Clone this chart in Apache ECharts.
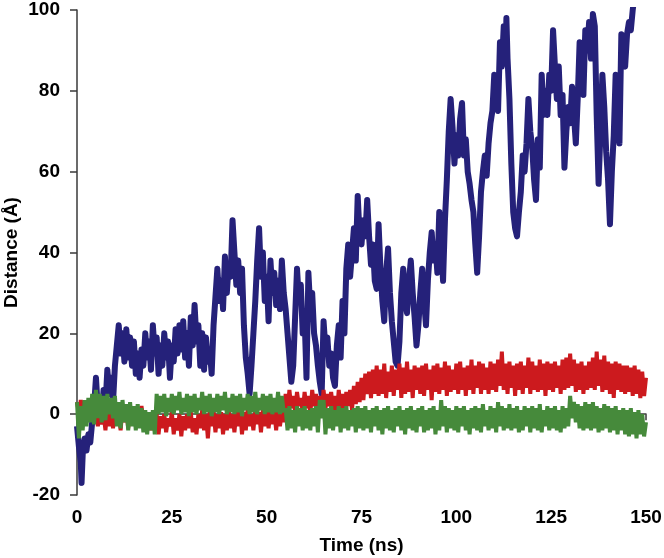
<!DOCTYPE html>
<html><head><meta charset="utf-8">
<script src="https://cdn.jsdelivr.net/npm/echarts@6/dist/echarts.min.js"></script>
<style>html,body{margin:0;padding:0;background:#fff}#c{width:664px;height:558px}</style>
</head><body><div id="c"></div>
<script>
// Time (ns) and distance (Å) for the blue trace
const blueT = [0,0.5,1,1.2,1.5,2,2.5,3,3.5,4,4.5,5,5.5,6,6.5,7,7.5,8,8.5,9,9.5,10,10.5,11,11.5,12,12.5,13,13.5,14,14.5,15,15.5,16,16.5,17,17.5,18,18.5,19,19.5,20,20.5,21,21.5,22,22.5,23,23.5,24,24.5,25,25.5,26,26.5,27,27.5,28,28.5,29,29.5,30,30.5,31,31.5,32,32.5,33,33.5,34,34.5,35,35.5,36,36.5,37,37.5,38,38.5,39,39.5,40,40.5,41,41.5,42,42.5,43,43.5,44,44.5,45,45.5,46,46.5,47,47.5,48,48.5,49,49.5,50,50.5,51,51.5,52,52.5,53,53.5,54,54.5,55,55.5,56,56.5,57,57.5,58,58.5,59,59.5,60,60.5,61,61.5,62,62.5,63,63.5,64,64.5,65,65.5,66,66.5,67,67.5,68,68.5,69,69.5,70,70.5,71,71.5,72,72.5,73,73.5,74,74.5,75,75.5,76,76.5,77,77.5,78,78.5,79,79.5,80,80.5,81,81.5,82,82.5,83,83.5,84,84.5,85,85.5,86,86.5,87,87.5,88,88.5,89,89.5,90,90.5,91,91.5,92,92.5,93,93.5,94,94.5,95,95.5,96,96.5,97,97.5,98,98.5,99,99.5,100,100.5,101,101.5,102,102.5,103,103.5,104,104.5,105,105.5,106,106.5,107,107.5,108,108.5,109,109.5,110,110.5,111,111.5,112,112.5,113,113.2,113.5,114,114.5,115,115.5,116,116.5,117,117.5,118,118.5,119,119.5,120,120.5,121,121.5,122,122.5,123,123.5,124,124.5,125,125.5,126,126.5,127,127.5,128,128.5,129,129.5,130,130.5,131,131.5,132,132.5,133,133.5,134,134.5,135,135.5,136,136.5,137,137.5,138,138.5,139,139.5,140,140.5,141,141.5,142,142.5,143,143.5,144,144.5,145,145.5,146,146.5,147];
const blueV = [-3,-8,-12,-17,-10,-6,-9,-5,-7,-2,2,9,1,3,-1,6,2,11,5,9,3,12,17,22,15,20,13,21,14,19,12,18,10,15,9,16,12,20,14,18,11,22,15,19,10,17,12,20,14,18,9,17,13,21,15,22,16,23,14,20,12,24,17,27,18,22,12,20,11,19,13,16,10,22,29,36,28,33,26,39,30,37,34,48,40,32,38,30,36,22,14,10,5,12,20,28,38,46,34,40,28,34,23,38,30,35,27,33,26,38,30,26,20,14,8,12,24,36,28,32,20,24,9,35,26,30,20,17,12,8,5,23,16,19,12,15,9,7,17,22,14,28,20,36,42,34,40,46,38,54,44,42,48,44,53,44,37,42,33,31,47,36,28,23,35,41,30,23,18,13,12,18,30,36,28,25,33,38,30,24,17,22,30,36,28,22,33,40,45,38,42,35,50,42,33,48,58,70,78,71,62,69,64,73,77,64,68,60,57,53,50,42,35,44,55,60,64,59,67,72,75,84,78,75,92,86,96,90,98,88,78,62,50,46,44,50,55,64,60,67,78,70,66,58,53,68,61,84,74,80,74,84,80,95,86,78,86,74,79,61,70,76,72,81,74,67,78,92,84,79,95,90,97,88,99,96,74,57,70,84,76,65,58,47,60,69,84,78,67,94,88,86,94,97,95,100,104];

// Red and green traces, sampled every 0.5 ns from 0 to 150 ns
const redV = [
3,0.5,3.5,1,2.5,-1,2,0,1,-2,
0.5,-3,1,-2.5,0,-4,1,-3,0.5,-3.5,
1,-2,0,-4,1.5,-2,1,-3.5,2,-1,
1.5,-3,1,-2,2,-1.5,0,-3.5,0.5,-4,
0,-3,0,-5,-0.5,-3.5,0,-4.5,-1,-3,
0.5,-5,-1,-4,0,-5.5,-0.5,-4,0,-3.5,
0.5,-4.5,-1,-5,0,-3.5,1,-4,0,-6,
0.5,-3,1,-4.5,0,-3.5,0.5,-5,0,-4,
1,-3.5,0,-4.5,0.5,-3,1,-5,0.5,-4,
1.5,-3,0,-4,1,-2.5,0.5,-4.5,1,-3,
1.5,-3.5,0.5,-2.5,1,-4,1.5,-3,0.5,-2,
5,1,6,1.5,4.5,0.5,5.5,2,4,0.5,
5.5,1.5,4.5,0,6,2,5,1,4.5,0.5,
6,1.5,5,2,5.5,1,4.5,0,6,1.5,
5,0.5,5.5,2,6,1,7,2.5,8,3,
9,3.5,10,5,10.5,4,11,5,12,4.5,
11,5,12.5,4,10.5,5.5,12,4.5,11,6,
12.5,4,11.5,5,13,5.5,11,4,12,6,
11.5,5,12,4.5,12.5,6,11,3.5,12,5.5,
12.5,5,11.5,6,13,4.5,12,5.5,11,6,
12.5,5,13,6,11.5,4.5,12,6,13.5,5,
12,6.5,13,5,12.5,6,11.5,5,13,6,
12.5,5.5,13.5,7,15.5,6,12.5,5,13,6.5,
12,4.5,12.5,6,13,5,12,6.5,14,5,
13,6,12,5.5,13.5,6,12.5,4.5,13,6,
12.5,5.5,13,6.5,12,5,13.5,6,14,6.5,
15,7,13.5,5.5,12.5,6,13,5,12,6,
13,6.5,14,6,15.5,7,13.5,5.5,14.5,6,
13,5,12.5,4,13,6,12.5,5.5,12,5,
12,5.5,11.5,4.5,12,5,11,4,10.5,4.5,
9];
const greenV = [
3,-6,2,-4,3.5,-3,4,-2,5,-2.5,
6,-1,5,-2,4.5,-1.5,5,0,4,-1,
4.5,-3,3,-3.5,3.5,-2,2.5,-4,3,-3,
2,-4,2.5,-3.5,1.5,-4.5,1,-5,0.5,-4,
1,-5,5,0,4.5,0.5,5,-0.5,4,0.5,
5,0,4.5,1,5.5,0,4,0.5,5,-0.5,
4.5,0.5,5,0,4,1,5.5,0,4.5,0.5,
5,-0.5,4,0.5,5,0,4.5,1,5.5,0,
4,0.5,5,0,4.5,0.5,5,-0.5,4,1,
5,0,4.5,0.5,5.5,0,4,1,5,0,
4.5,0.5,5,0,4,0.5,5.5,0,4.5,0.5,
1.5,-4,2,-3.5,1,-4.5,2,-3,1.5,-4,
2,-3.5,1,-4,1.5,-3,2,-4.5,3.5,-1,
3.5,-5,1.5,-3.5,2,-4,1,-3,2,-4.5,
1.5,-3.5,2,-4,1,-3,1.5,-4.5,2,-3.5,
1.5,-4,2,-3.5,1,-4.5,1.5,-3,2,-4,
1,-5,1.5,-3.5,2,-4,1,-4.5,1.5,-3,
2,-4,1,-5,1.5,-3.5,2,-4,1,-4.5,
1.5,-3,2,-4.5,1,-4,1.5,-3.5,2,-5,
1,-4,3.5,-3,2,-4.5,1.5,-3.5,1,-4,
2,-4.5,1.5,-3,2,-4,1,-5,1.5,-3.5,
2,-4,1.5,-4.5,2.5,-3,1,-4,2,-3.5,
1.5,-4.5,3,-3,2,-4,1.5,-3.5,2.5,-4,
1.5,-3.5,2,-4.5,1,-4,2,-3,1.5,-4.5,
2,-3.5,1.5,-4,2.5,-4.5,1,-3,2,-4,
1.5,-3.5,2,-4,1,-4.5,2,-3.5,1.5,-3,
4.5,-1,3,-2,2.5,-3.5,2,-4,3,-3.5,
2.5,-4,3,-3.5,2,-4.5,1.5,-4,2.5,-3.5,
2,-4.5,1.5,-4,2,-5,1,-4,1.5,-5,
1,-5.5,1.5,-5,0.5,-6,1,-5,0,-5.5,
-2];
const sampleStep = 0.5;
const xTicks = [0,25,50,75,100,125,150];
const yTicks = [-20,0,20,40,60,80,100];

const pairs = (ts, vs) => vs.map((v, i) => [ts[i], v]);
const uniform = vs => vs.map((v, i) => [i * sampleStep, v]);

const font = '"Liberation Sans", Arial, sans-serif';
const axisCol = '#3a3a3a';
const chart = echarts.init(document.getElementById('c'), null, {renderer: 'canvas'});
chart.setOption({
  animation: false,
  backgroundColor: '#fff',
  grid: {left: 77, right: 18, top: 10, bottom: 63, containLabel: false, outerBoundsMode: 'none'},
  xAxis: {
    type: 'value', min: 0, max: 150, interval: 25,
    name: 'Time (ns)', nameLocation: 'middle', nameGap: 41, nameMoveOverlap: false,
    nameTextStyle: {fontFamily: font, fontWeight: 'bold', fontSize: 19, color: '#000'},
    axisLine: {show: true, lineStyle: {color: axisCol, width: 1.5}},
    axisTick: {show: true, length: 6, lineStyle: {color: axisCol, width: 1.5}},
    axisLabel: {fontFamily: font, fontWeight: 'bold', fontSize: 19, color: '#000', margin: 13,
      formatter: v => xTicks.includes(v) ? String(v) : ''},
    splitLine: {show: false}
  },
  yAxis: {
    type: 'value', min: -20, max: 100, interval: 20,
    name: 'Distance (Å)', nameLocation: 'middle', nameGap: 56, nameMoveOverlap: false,
    nameTextStyle: {fontFamily: font, fontWeight: 'bold', fontSize: 19, color: '#000'},
    axisLine: {show: true, lineStyle: {color: axisCol, width: 1.5}},
    axisTick: {show: true, length: 7, lineStyle: {color: axisCol, width: 1.5}},
    axisLabel: {fontFamily: font, fontWeight: 'bold', fontSize: 19, color: '#000', margin: 17,
      formatter: v => yTicks.includes(v) ? String(v) : ''},
    splitLine: {show: false}
  },
  series: [
    {type: 'line', data: pairs(blueT, blueV), showSymbol: false, symbol: 'none',
      lineStyle: {color: '#25217a', width: 6, join: 'round'}, clip: true, z: 2},
    {type: 'line', data: uniform(redV), showSymbol: false, symbol: 'none',
      lineStyle: {color: '#cc1a1e', width: 4}, clip: true, z: 3},
    {type: 'line', data: uniform(greenV), showSymbol: false, symbol: 'none',
      lineStyle: {color: '#468a3b', width: 4}, clip: true, z: 4}
  ]
});
</script></body></html>
